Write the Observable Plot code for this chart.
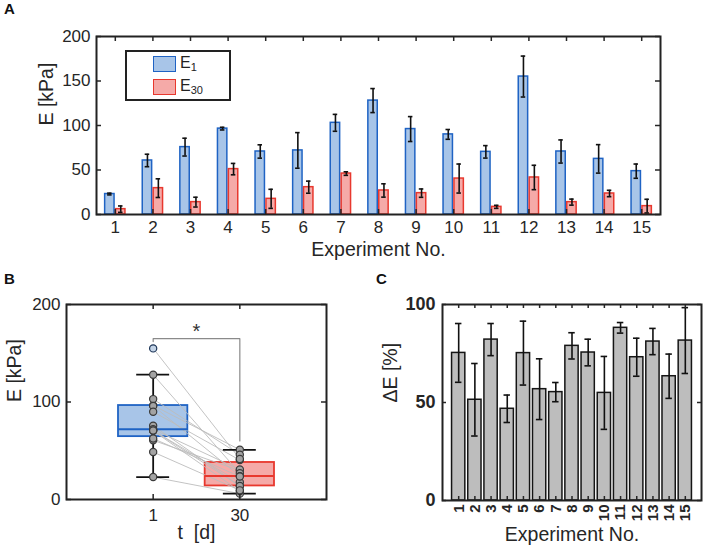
<!DOCTYPE html>
<html>
<head>
<meta charset="utf-8">
<script src="https://cdn.jsdelivr.net/npm/d3@7"></script>
<script src="https://cdn.jsdelivr.net/npm/@observablehq/plot@0.6"></script>
<style>
  html, body { margin: 0; padding: 0; background: #fff; }
  #root { position: relative; width: 709px; height: 555px; overflow: hidden; font-family: "Liberation Sans", Arial, sans-serif; color: #262626; }
  .panel { position: absolute; }
  .plabel { position: absolute; font-weight: bold; font-size: 15px; color: #111; }
  #legend { position: absolute; left: 125px; top: 50px; width: 102px; height: 47px; border: 2px solid #222; background: #fff; }
  .sw { position: absolute; width: 21px; height: 14px; }
  .lt { position: absolute; font-size: 16px; color: #222; }
  .lt sub { font-size: 11px; vertical-align: -3px; }
</style>
</head>
<body>
<div id="root">
  <div class="plabel" style="left:4px;top:0px">A</div>
  <div class="plabel" style="left:4px;top:270px">B</div>
  <div class="plabel" style="left:376px;top:270px">C</div>
  <div class="panel" id="pa" style="left:0;top:0"></div>
  <div class="panel" id="pb" style="left:0;top:270px"></div>
  <div class="panel" id="pc" style="left:360px;top:270px"></div>
  <div id="legend">
    <div class="sw" style="left:26px;top:4px;background:#a8c5e8;border:1.5px solid #1f63c4"></div>
    <div class="lt" style="left:53px;top:2px">E<sub>1</sub></div>
    <div class="sw" style="left:26px;top:27px;background:#f5aaa8;border:1.5px solid #e8382e"></div>
    <div class="lt" style="left:53px;top:25px">E<sub>30</sub></div>
  </div>
</div>
<script>
// ---------- data ----------
const experiments = [1,2,3,4,5,6,7,8,9,10,11,12,13,14,15];
const e1     = [23, 60.7, 75.7, 96.5, 70.8, 72, 103, 128, 96, 90, 70.4, 155, 70.8, 62.5, 48.7];
const e1Err  = [1, 7, 10, 1.5, 7.5, 20, 9.5, 13.5, 14, 5.5, 7, 23, 13, 16, 8];
const e30    = [6, 29.6, 13.9, 51, 17.6, 30.7, 46, 27, 24, 40.4, 8.6, 41.6, 13.9, 23.6, 9.4];
const e30Err = [3.6, 10.5, 5.5, 6.4, 10.7, 6.8, 2, 7.5, 4.7, 16.3, 1.7, 13.7, 3.4, 3.6, 7.7];
const dE     = [75.3, 51.4, 82.1, 46.8, 75.2, 56.8, 55.3, 78.9, 75.5, 54.9, 88.1, 73.1, 81.1, 63.4, 81.6];
const dEErr  = [15, 18.5, 8.2, 7, 16.3, 15.5, 4.9, 6.7, 6.8, 18.6, 2.7, 9.7, 6.7, 11.3, 16.8];
const tGroups = ["1", "30"];
const yTicksA = [0, 50, 100, 150, 200];
const yTicksB = [0, 100, 200];
const yTicksC = [0, 50, 100];

const BLUE_F = "#a8c5e8", BLUE_S = "#1f63c4";
const RED_F = "#f5aaa8", RED_S = "#e8382e";
const INK = "#262626";
const FONT = "Liberation Sans, Arial, sans-serif";

function inwardTicks(xTicks, yTicks, innerW, innerH, len) {
  const m = [];
  if (xTicks) {
    m.push(Plot.tickX(xTicks, {x: d => d, insetTop: innerH - len, stroke: INK, strokeWidth: 1.5}));
    m.push(Plot.tickX(xTicks, {x: d => d, insetBottom: innerH - len, stroke: INK, strokeWidth: 1.5}));
  }
  if (yTicks) {
    m.push(Plot.tickY(yTicks, {y: d => d, insetRight: innerW - len, stroke: INK, strokeWidth: 1.5}));
    m.push(Plot.tickY(yTicks, {y: d => d, insetLeft: innerW - len, stroke: INK, strokeWidth: 1.5}));
  }
  return m;
}

// ---------- Panel A ----------
{
  const W = 709, H = 266, ml = 96, mr = 49, mt = 36, mb = 52;
  const rows = experiments.map((e, i) => ({exp: e, a: e1[i], ae: e1Err[i], b: e30[i], be: e30Err[i]}));
  const off = 0.145, hw = 0.125, cap = 0.06;
  const chart = Plot.plot({
    width: W, height: H, marginLeft: ml, marginRight: mr, marginTop: mt, marginBottom: mb,
    style: {fontFamily: FONT, fontSize: "17px", color: INK, background: "transparent"},
    x: {domain: [0.5, 15.5]},
    y: {domain: [0, 200]},
    marks: [
      Plot.rect(rows, {x1: d => d.exp - off - hw, x2: d => d.exp - off + hw, y1: 0, y2: "a", fill: BLUE_F, stroke: BLUE_S, strokeWidth: 1.5}),
      Plot.rect(rows, {x1: d => d.exp + off - hw, x2: d => d.exp + off + hw, y1: 0, y2: "b", fill: RED_F, stroke: RED_S, strokeWidth: 1.5}),
      Plot.ruleX(rows, {x: d => d.exp - off, y1: d => d.a - d.ae, y2: d => d.a + d.ae, stroke: "#111", strokeWidth: 1.6}),
      Plot.ruleY(rows, {y: d => d.a - d.ae, x1: d => d.exp - off - cap, x2: d => d.exp - off + cap, stroke: "#111", strokeWidth: 1.6}),
      Plot.ruleY(rows, {y: d => d.a + d.ae, x1: d => d.exp - off - cap, x2: d => d.exp - off + cap, stroke: "#111", strokeWidth: 1.6}),
      Plot.ruleX(rows, {x: d => d.exp + off, y1: d => Math.max(0, d.b - d.be), y2: d => d.b + d.be, stroke: "#111", strokeWidth: 1.6}),
      Plot.ruleY(rows, {y: d => Math.max(0, d.b - d.be), x1: d => d.exp + off - cap, x2: d => d.exp + off + cap, stroke: "#111", strokeWidth: 1.6}),
      Plot.ruleY(rows, {y: d => d.b + d.be, x1: d => d.exp + off - cap, x2: d => d.exp + off + cap, stroke: "#111", strokeWidth: 1.6}),
      ...inwardTicks(experiments, yTicksA, W - ml - mr, H - mt - mb, 5),
      Plot.axisX({ticks: experiments, tickSize: 0, tickPadding: 6, label: null, fontSize: 17}),
      Plot.axisY({ticks: yTicksA, tickSize: 0, tickPadding: 6, label: null, fontSize: 17}),
      Plot.text(["Experiment No."], {frameAnchor: "bottom", dy: 41, fontSize: 19.5, fill: INK}),
      Plot.text(["E [kPa]"], {frameAnchor: "left", dx: -50, rotate: -90, fontSize: 19.5, fill: INK}),
      Plot.frame({stroke: "#222", strokeWidth: 2})
    ]
  });
  document.getElementById("pa").appendChild(chart);
}

// ---------- Panel B ----------
function prctile(arr, p) {
  const s = arr.slice().sort((a, b) => a - b), n = s.length;
  let pos = p * n + 0.5; // 1-based (MATLAB-style)
  if (pos <= 1) return s[0];
  if (pos >= n) return s[n - 1];
  const lo = Math.floor(pos), f = pos - lo;
  return s[lo - 1] + f * (s[lo] - s[lo - 1]);
}
{
  const W = 360, H = 285, ml = 66, mr = 34, mt = 34, mb = 56;
  const groups = [e1, e30];
  const fills = [BLUE_F, RED_F], strokes = [BLUE_S, RED_S];
  const stats = groups.map((arr, gi) => {
    const q1 = prctile(arr, 0.25), q3 = prctile(arr, 0.75), med = d3.median(arr);
    const iqr = q3 - q1;
    const hi = d3.max(arr.filter(v => v <= q3 + 1.5 * iqr));
    const lo = d3.min(arr.filter(v => v >= q1 - 1.5 * iqr));
    return {x: gi + 1, q1, q3, med, hi, lo, fill: fills[gi], stroke: strokes[gi]};
  });
  const pts = [];
  groups.forEach((arr, gi) => arr.forEach(v => pts.push({x: gi + 1, v, out: v > stats[gi].hi || v < stats[gi].lo})));
  const pairs = experiments.map((e, i) => ({a: e1[i], b: e30[i]}));
  const sigY = 165;
  const bracket = [
    {x: 1, y: d3.max(e1) + 7},
    {x: 1, y: sigY},
    {x: 2, y: sigY},
    {x: 2, y: stats[1].hi + 9}
  ];
  const bw = 0.4, cw = 0.19;
  const chart = Plot.plot({
    width: W, height: H, marginLeft: ml, marginRight: mr, marginTop: mt, marginBottom: mb,
    style: {fontFamily: FONT, fontSize: "17px", color: INK, background: "transparent"},
    x: {domain: [0, 3]},
    y: {domain: [0, 200]},
    marks: [
      Plot.rect(stats, {x1: d => d.x - bw, x2: d => d.x + bw, y1: "q1", y2: "q3", fill: "fill", stroke: "stroke", strokeWidth: 1.8}),
      Plot.link(pairs, {x1: () => 1, x2: () => 2, y1: "a", y2: "b", stroke: "#bdbdbd", strokeWidth: 1, strokeOpacity: 0.9}),
      Plot.ruleY(stats, {y: "med", x1: d => d.x - bw, x2: d => d.x + bw, stroke: "stroke", strokeWidth: 2}),
      Plot.ruleX(stats, {x: "x", y1: "q3", y2: "hi", stroke: "#111", strokeWidth: 1.8}),
      Plot.ruleX(stats, {x: "x", y1: "lo", y2: "q1", stroke: "#111", strokeWidth: 1.8}),
      Plot.ruleY(stats, {y: "hi", x1: d => d.x - cw, x2: d => d.x + cw, stroke: "#111", strokeWidth: 1.8}),
      Plot.ruleY(stats, {y: "lo", x1: d => d.x - cw, x2: d => d.x + cw, stroke: "#111", strokeWidth: 1.8}),
      Plot.line(bracket, {x: "x", y: "y", stroke: "#8a8a8a", strokeWidth: 1.2}),
      Plot.text(["*"], {x: 1.5, y: sigY, dy: -7, fontSize: 20, fill: "#333"}),
      Plot.dot(pts, {x: "x", y: "v", r: 3.6, fill: d => d.out ? "#c3d3e6" : "#a3a3a3", stroke: d => d.out ? "#1d3557" : "#3a3a3a", strokeWidth: 1.2}),
      ...inwardTicks([1, 2], yTicksB, W - ml - mr, H - mt - mb, 5),
      Plot.axisX({ticks: [1, 2], tickFormat: d => tGroups[d - 1], tickSize: 0, tickPadding: 9, label: null, fontSize: 17}),
      Plot.axisY({ticks: yTicksB, tickSize: 0, tickPadding: 6, label: null, fontSize: 17}),
      Plot.text(["t  [d]"], {frameAnchor: "bottom", dy: 39, fontSize: 19.5, fill: INK}),
      Plot.text(["E [kPa]"], {frameAnchor: "left", dx: -52, rotate: -90, fontSize: 19.5, fill: INK}),
      Plot.frame({stroke: "#222", strokeWidth: 2})
    ]
  });
  document.getElementById("pb").appendChild(chart);
}

// ---------- Panel C ----------
{
  const W = 349, H = 285, ml = 82, mr = 8, mt = 34, mb = 55;
  const rows = experiments.map((e, i) => ({exp: e, v: dE[i], err: dEErr[i]}));
  const hw = 0.41, cap = 0.2;
  const chart = Plot.plot({
    width: W, height: H, marginLeft: ml, marginRight: mr, marginTop: mt, marginBottom: mb,
    style: {fontFamily: FONT, fontSize: "17px", color: INK, background: "transparent"},
    x: {domain: [0, 16]},
    y: {domain: [0, 100]},
    marks: [
      Plot.rect(rows, {x1: d => d.exp - hw, x2: d => d.exp + hw, y1: 0, y2: "v", fill: "#bdbdbd", stroke: "#151515", strokeWidth: 1.5}),
      Plot.ruleX(rows, {x: "exp", y1: d => d.v - d.err, y2: d => d.v + d.err, stroke: "#111", strokeWidth: 1.6}),
      Plot.ruleY(rows, {y: d => d.v - d.err, x1: d => d.exp - cap, x2: d => d.exp + cap, stroke: "#111", strokeWidth: 1.6}),
      Plot.ruleY(rows, {y: d => d.v + d.err, x1: d => d.exp - cap, x2: d => d.exp + cap, stroke: "#111", strokeWidth: 1.6}),
      ...inwardTicks(experiments, yTicksC, W - ml - mr, H - mt - mb, 4),
      Plot.axisX({ticks: experiments, tickRotate: -90, tickSize: 0, tickPadding: 4, label: null, fontSize: 15, fontWeight: "bold"}),
      Plot.axisY({ticks: yTicksC, tickSize: 0, tickPadding: 7, label: null, fontSize: 18, fontWeight: "bold"}),
      Plot.text(["Experiment No."], {frameAnchor: "bottom", dy: 40, fontSize: 19.5, fill: INK}),
      Plot.text(["ΔE [%]"], {frameAnchor: "left", dx: -52, rotate: -90, fontSize: 19.5, fill: INK}),
      Plot.frame({stroke: "#222", strokeWidth: 2})
    ]
  });
  document.getElementById("pc").appendChild(chart);
}
</script>
</body>
</html>
